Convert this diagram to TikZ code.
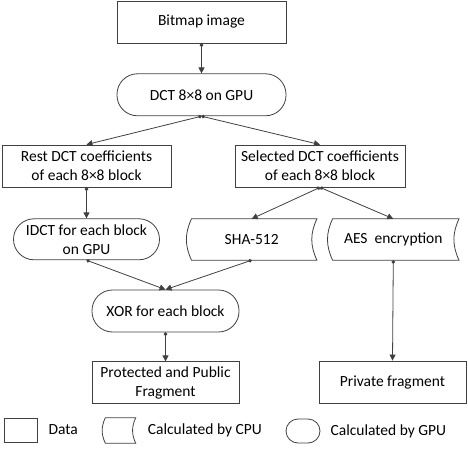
\documentclass[tikz,border=0pt]{standalone}
\usepackage{fontspec}
\setmainfont{Carlito}
\usetikzlibrary{arrows.meta,positioning}

\begin{document}
\begin{tikzpicture}[
  x=1pt, y=1pt,
  node distance=10pt and 10pt,
  font=\fontsize{15.5}{19}\selectfont,
  data/.style={rectangle, draw=black!75, line width=0.8pt, inner sep=2pt, align=center, minimum width=169pt, minimum height=42pt},
  gpu/.style={rectangle, rounded corners=20.5pt, draw=black!75, line width=0.8pt, inner sep=2pt, align=center, minimum width=169pt, minimum height=42pt},
  cpu/.style={rectangle, inner sep=2pt, align=center, minimum width=130pt, minimum height=41pt},
  lbl/.style={inner sep=2pt, anchor=west},
  arr/.style={{Circle[length=3.5pt]}-{Triangle[length=6pt,width=6pt]}, draw=black!75, line width=0.8pt}
]
\useasboundingbox (0,0) rectangle (468,-449);

% Main flow
\node[data] (bitmap) at (201.5,-22) {Bitmap image};
\node[gpu, below=30pt of bitmap] (dct) {DCT 8×8 on GPU};
\node[data] (rest) at (86.5,-166) {Rest DCT coefficients\\of each 8×8 block};
\node[data, minimum width=170pt] (sel) at (320,-166) {Selected DCT coefficients\\of each 8×8 block};
\node[gpu, minimum width=146pt, minimum height=41pt, below=31pt of rest] (idct) {IDCT for each block\\on GPU};
\node[cpu] (sha) at (251.7,-239.5) {SHA-512};
\node[cpu, minimum width=131pt] (aes) at (393.3,-239.5) {AES\ \ encryption};
\node[gpu, minimum width=147pt] (xor) at (165.5,-311) {XOR for each block};
\node[data, minimum width=147pt, below=29pt of xor] (prot) {Protected and Public\\Fragment};
\node[data, minimum width=147pt] (priv) at (392.5,-382) {Private fragment};

% Legend
\node[data, minimum width=33pt, minimum height=24pt] (keydata) at (20.5,-430) {};
\node[lbl, right=9pt of keydata] (txtdata) {Data};
\node[cpu, minimum width=33pt, minimum height=25pt] (keycpu) at (119,-430.5) {};
\node[lbl, right=10pt of keycpu] (txtcpu) {Calculated by CPU};
\node[gpu, rounded corners=12pt, minimum width=34pt, minimum height=24pt] (keygpu) at (303,-431) {};
\node[lbl, right=8pt of keygpu] (txtgpu) {Calculated by GPU};

% CPU outlines
\foreach \n/\b in {sha/5pt, aes/5pt, keycpu/3pt}
  \draw[draw=black!75, line width=0.8pt]
    ([xshift=\b]\n.north west) -- (\n.north east)
    to[bend right=25] (\n.south east) -- ([xshift=\b]\n.south west)
    to[bend left=25] ([xshift=\b]\n.north west) -- cycle;

% Connections
\draw[arr] (bitmap) -- (dct);
\draw[arr] (dct.south) -- (rest.north);
\draw[arr] (dct.south) -- (sel.north);
\draw[arr] (rest) -- (idct);
\draw[arr] (sel.south) -- (sha.north);
\draw[arr] (sel.south) -- (aes.north);
\draw[arr] (idct.south) -- (xor.north);
\draw[arr] (sha.south) -- (xor.north);
\draw[arr] (xor) -- (prot);
\draw[arr] (aes.south) -- (priv.north);

\end{tikzpicture}
\end{document}
